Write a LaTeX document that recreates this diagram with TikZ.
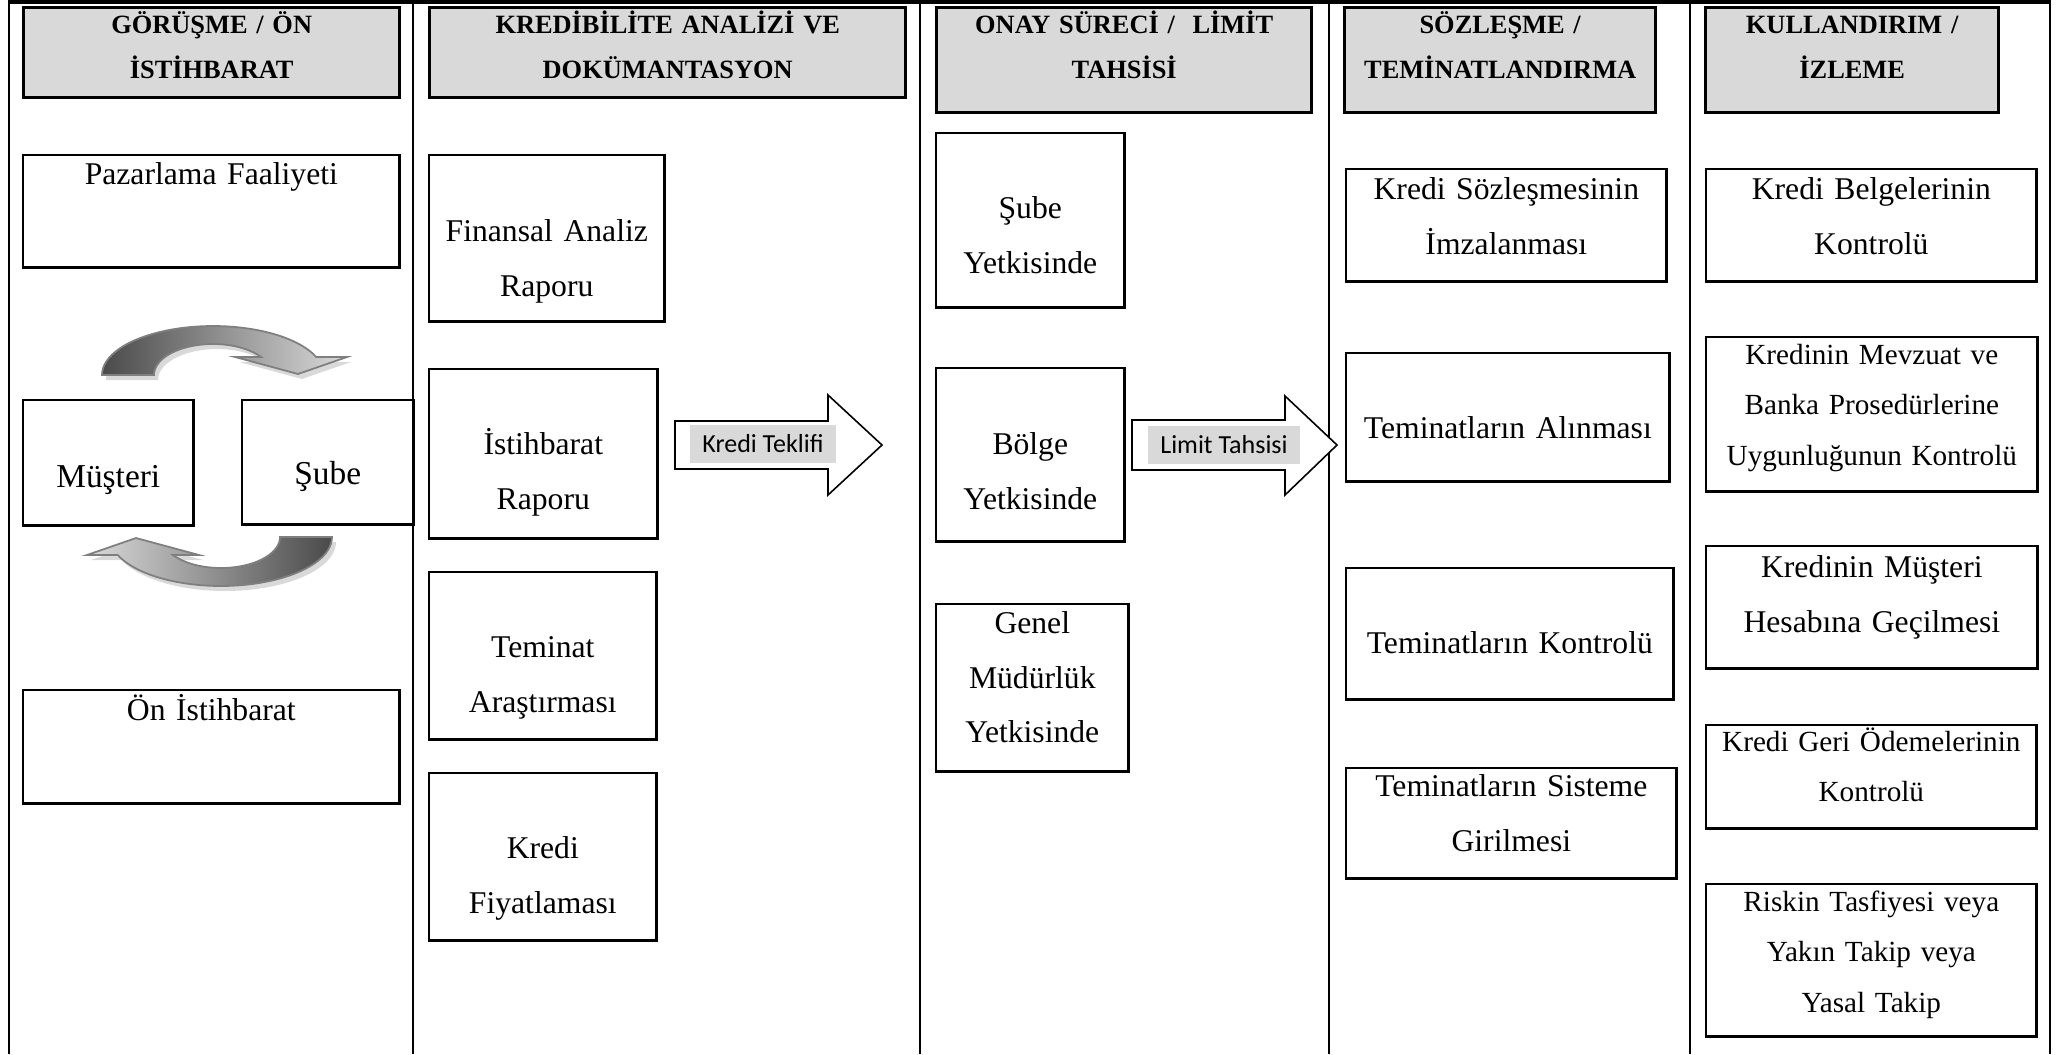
\documentclass[tikz,border=0pt]{standalone}
\usepackage{fontspec}
\setmainfont{Liberation Serif}
\newfontfamily\etiketfont{Carlito}
\usepackage{xcolor}

\definecolor{baslikgri}{HTML}{D9D9D9}
\definecolor{koyugri}{HTML}{4A4A4A}
\definecolor{ortagri}{HTML}{6E6E6E}
\definecolor{acikgri}{HTML}{DADADA}
\definecolor{cizgigri}{HTML}{7F7F7F}

% kavisli ok (ust), piksel koordinatlari
\newcommand{\donusok}{(102,375) -- plot[domain=180:338.4, samples=40] ({213+111*cos(\x)},{375+49*sin(\x)})
  -- (347,357) -- (298,374) -- (235,357)
  -- plot[domain=324.5:180, samples=40] ({213+59*cos(\x)},{375+31*sin(\x)}) -- cycle}

\tikzset{
  sutun/.style={line width=0.6pt},
  baslik/.style={draw, line width=0.9pt, fill=baslikgri, inner sep=0pt, anchor=north west,
    align=center, font=\bfseries\fontsize{7.5}{12.9}\selectfont},
  kutu/.style={draw, line width=0.7pt, inner sep=0pt, anchor=north west, align=center,
    font=\fontsize{9}{15.6}\selectfont},
  kucuk/.style={font=\fontsize{8.3}{14.4}\selectfont},
  iri/.style={font=\fontsize{9.5}{12}\selectfont},
  olcu/.style n args={3}{text width=#1, text height=#2, text depth=#3},
  blok/.style={draw, line width=0.45pt, fill=white},
  etiket/.style={fill=baslikgri, inner sep=0pt, font=\etiketfont\fontsize{7.4}{9}\selectfont},
  golge/.style={fill=black!15},
  donus/.style={draw=cizgigri, line width=0.5pt}
}

\begin{document}
\begin{tikzpicture}[x=0.01cm, y=-0.01cm]
    \useasboundingbox (0,0) rectangle (2067,1054);

    % tablo cizgileri
    \foreach \x in {9,413,920,1329,1690,2050}
        \draw[sutun] (\x,0) -- (\x,1054);
    \draw[line width=1.2pt] (9,2) -- (2050,2);

    % basliklar
    \node[baslik, olcu={3.76cm}{0.26cm}{0.64cm}] (gorusme) at (22,6) {GÖRÜŞME / ÖN\\İSTİHBARAT};
    \node[baslik, olcu={4.76cm}{0.26cm}{0.64cm}] (kredibilite) at (428,6) {KREDİBİLİTE ANALİZİ VE\\DOKÜMANTASYON};
    \node[baslik, olcu={3.75cm}{0.26cm}{0.79cm}] (onay) at (935,6) {ONAY SÜRECİ / \ LİMİT\\TAHSİSİ};
    \node[baslik, olcu={3.11cm}{0.26cm}{0.79cm}] (sozlesme) at (1343,6) {SÖZLEŞME /\\TEMİNATLANDIRMA};
    \node[baslik, olcu={2.93cm}{0.26cm}{0.79cm}] (kullandirim) at (1704,6) {KULLANDIRIM /\\İZLEME};

    % 1. sutun
    \node[kutu, olcu={3.76cm}{0.29cm}{0.83cm}] (pazarlama) at (22,154) {Pazarlama Faaliyeti};
    \node[kutu, iri, olcu={1.70cm}{0.87cm}{0.38cm}] (musteri) at (22,399) {Müşteri};
    \node[kutu, iri, olcu={1.71cm}{0.84cm}{0.40cm}] (sube) at (241,399) {Şube};
    \node[kutu, olcu={3.76cm}{0.30cm}{0.83cm}] (onist) at (22,689) {Ön İstihbarat};

    % musteri - sube donus oklari
    \fill[golge, shift={(4,5)}] \donusok;
    \shadedraw[donus, left color=koyugri, middle color=ortagri, right color=acikgri] \donusok;
    \begin{scope}[rotate around={180:(217,456)}]
        \fill[golge, shift={(-4,-5)}] \donusok;
        \shadedraw[donus, left color=acikgri, middle color=ortagri, right color=koyugri] \donusok;
    \end{scope}

    % 2. sutun
    \node[kutu, olcu={2.35cm}{0.86cm}{0.80cm}] (finansal) at (428,154) {Finansal Analiz\\Raporu};
    \node[kutu, olcu={2.28cm}{0.85cm}{0.84cm}] (istihbarat) at (428,368) {İstihbarat\\Raporu};
    \node[kutu, olcu={2.27cm}{0.85cm}{0.82cm}] (teminat) at (428,571) {Teminat\\Araştırması};
    \node[kutu, olcu={2.27cm}{0.85cm}{0.82cm}] (fiyat) at (428,772) {Kredi\\Fiyatlaması};

    % kredi teklifi oku
    \draw[blok] (675,421) -- (828,421) -- (828,395) -- (882,445) -- (828,495) -- (828,469) -- (675,469) -- cycle;
    \node[etiket, minimum width=1.45cm, minimum height=0.38cm] (teklif) at (763,444) {Kredi Teklifi};

    % 3. sutun
    \node[kutu, olcu={1.88cm}{0.85cm}{0.89cm}] (subeyet) at (935,132) {Şube\\Yetkisinde};
    \node[kutu, olcu={1.88cm}{0.86cm}{0.87cm}] (bolge) at (935,367) {Bölge\\Yetkisinde};
    \node[kutu, olcu={1.92cm}{0.29cm}{1.38cm}] (genel) at (935,603) {Genel\\Müdürlük\\Yetkisinde};

    % limit tahsisi oku
    \draw[blok] (1132,420) -- (1285,420) -- (1285,396) -- (1337,445) -- (1285,495) -- (1285,470) -- (1132,470) -- cycle;
    \node[etiket, minimum width=1.51cm, minimum height=0.38cm] (limit) at (1224,445) {Limit Tahsisi};

    % 4. sutun
    \node[kutu, olcu={3.20cm}{0.30cm}{0.82cm}] (imza) at (1345,168) {Kredi Sözleşmesinin\\İmzalanması};
    \node[kutu, olcu={3.23cm}{0.85cm}{0.43cm}] (alinma) at (1345,352) {Teminatların Alınması};
    \node[kutu, olcu={3.27cm}{0.85cm}{0.46cm}] (kontrol) at (1345,567) {Teminatların Kontrolü};
    \node[kutu, olcu={3.30cm}{0.28cm}{0.82cm}] (sistem) at (1345,767) {Teminatların Sisteme\\Girilmesi};

    % 5. sutun
    \node[kutu, olcu={3.30cm}{0.30cm}{0.82cm}] (belge) at (1705,168) {Kredi Belgelerinin\\Kontrolü};
    \node[kutu, kucuk, olcu={3.31cm}{0.27cm}{1.27cm}] (mevzuat) at (1705,336) {Kredinin Mevzuat ve\\Banka Prosedürlerine\\Uygunluğunun Kontrolü};
    \node[kutu, olcu={3.31cm}{0.31cm}{0.91cm}] (hesap) at (1705,545) {Kredinin Müşteri\\Hesabına Geçilmesi};
    \node[kutu, kucuk, olcu={3.30cm}{0.26cm}{0.77cm}] (odeme) at (1705,724) {Kredi Geri Ödemelerinin\\Kontrolü};
    \node[kutu, kucuk, olcu={3.30cm}{0.27cm}{1.25cm}] (risk) at (1705,883) {Riskin Tasfiyesi veya\\Yakın Takip veya\\Yasal Takip};
\end{tikzpicture}
\end{document}
